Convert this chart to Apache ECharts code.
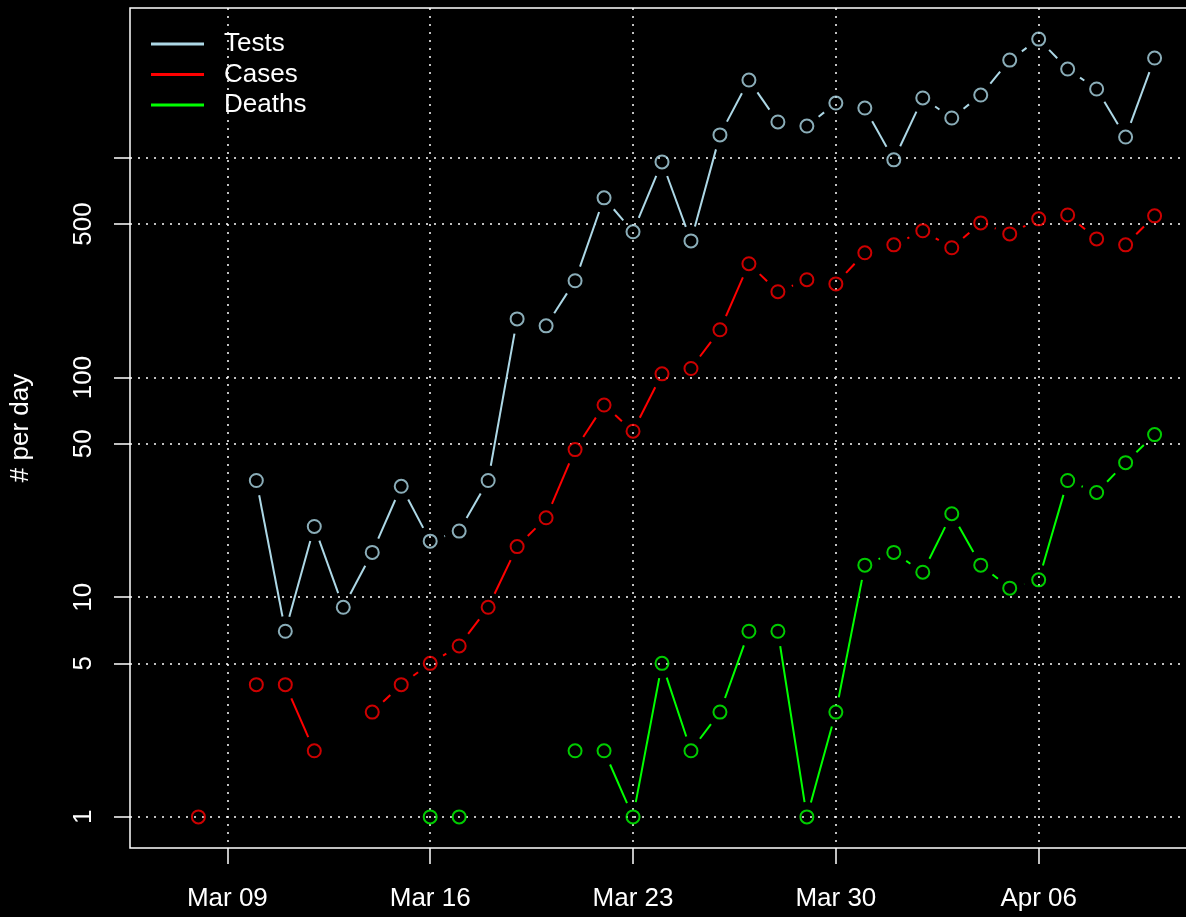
<!DOCTYPE html>
<html>
<head>
<meta charset="utf-8">
<title># per day</title>
<script src="https://cdn.jsdelivr.net/npm/echarts@6/dist/echarts.min.js"></script>
<style>
  html, body { margin: 0; padding: 0; background: #000; }
  #chart { width: 1186px; height: 917px; }
</style>
</head>
<body>
<div id="chart"></div>
<script>
// 日期 (2020)
const dates = [
    '2020-03-07', '2020-03-08', '2020-03-09', '2020-03-10', '2020-03-11', '2020-03-12', '2020-03-13',
    '2020-03-14', '2020-03-15', '2020-03-16', '2020-03-17', '2020-03-18', '2020-03-19', '2020-03-20',
    '2020-03-21', '2020-03-22', '2020-03-23', '2020-03-24', '2020-03-25', '2020-03-26', '2020-03-27',
    '2020-03-28', '2020-03-29', '2020-03-30', '2020-03-31', '2020-04-01', '2020-04-02', '2020-04-03',
    '2020-04-04', '2020-04-05', '2020-04-06', '2020-04-07', '2020-04-08', '2020-04-09', '2020-04-10'
];
const tests = [
    null, null, null, 34, 7, 21, 9,
    16, 32, 18, 20, 34, 185, 172,
    276, 658, 461, 959, 419, 1273, 2263,
    1458, 1397, 1778, 1687, 980, 1875, 1520,
    1933, 2788, 3475, 2539, 2060, 1245, 2850
];
const cases = [
    null, 1, null, 4, 4, 2, null,
    3, 4, 5, 6, 9, 17, 23,
    47, 75, 57, 104, 110, 165, 330,
    246, 279, 267, 370, 402, 466, 390,
    506, 451, 528, 550, 428, 402, 545
];
const deaths = [
    null, null, null, null, null, null, null,
    null, null, 1, 1, null, null, null,
    2, 2, 1, 5, 2, 3, 7,
    7, 1, 3, 14, 16, 13, 24,
    14, 11, 12, 34, 30, 41, 55
];
const xTickDates = ['2020-03-09', '2020-03-16', '2020-03-23', '2020-03-30', '2020-04-06'];
const xTickLabels = ['Mar 09', 'Mar 16', 'Mar 23', 'Mar 30', 'Apr 06'];
const yTicks = [1, 5, 10, 50, 100, 500, 1000];
const yTickLabels = [1, 5, 10, 50, 100, 500];

const DAY = 864e5;
const origin = Date.parse('2020-03-09');
const toX = d => (Date.parse(d) - origin) / DAY;
const xs = dates.map(toX);
const xTickVals = xTickDates.map(toX);

const FONT = "'Liberation Sans', Arial, sans-serif";
const GAP = 15; // 线段两端留空, 模仿 R 的 type="b"

// 连续两天都有值才连线
const makeSegments = (vals) => {
    const segs = [];
    for (let i = 1; i < vals.length; i++) {
        if (vals[i - 1] != null && vals[i] != null) {
            segs.push([xs[i - 1], vals[i - 1], xs[i], vals[i]]);
        }
    }
    return segs;
};
const makePoints = (vals) =>
    vals.map((v, i) => (v == null ? null : [xs[i], v])).filter(p => p);

const gapRenderer = (color) => (params, api) => {
    const p0 = api.coord([api.value(0), api.value(1)]);
    const p1 = api.coord([api.value(2), api.value(3)]);
    const dx = p1[0] - p0[0], dy = p1[1] - p0[1];
    const d = Math.sqrt(dx * dx + dy * dy);
    if (d <= 2 * GAP) return { type: 'group', children: [] };
    const ux = dx / d, uy = dy / d;
    return {
        type: 'line',
        shape: {
            x1: p0[0] + ux * GAP, y1: p0[1] + uy * GAP,
            x2: p1[0] - ux * GAP, y2: p1[1] - uy * GAP
        },
        style: { stroke: color, lineWidth: 2 }
    };
};

const groups = [
    { name: 'Tests', color: '#ADD8E6', vals: tests },
    { name: 'Cases', color: '#FF0000', vals: cases },
    { name: 'Deaths', color: '#00FF00', vals: deaths }
];

const series = [];
groups.forEach(g => {
    series.push({
        name: g.name,
        type: 'custom',
        renderItem: gapRenderer(g.color),
        encode: { x: [0, 2], y: [1, 3] },
        data: makeSegments(g.vals),
        itemStyle: { color: g.color },
        silent: true
    });
    series.push({
        name: g.name,
        type: 'scatter',
        symbol: 'circle',
        symbolSize: 13,
        data: makePoints(g.vals),
        itemStyle: { color: 'rgba(0,0,0,0)', borderColor: g.color, borderWidth: 2 },
        silent: true
    });
});

const chart = echarts.init(document.getElementById('chart'));
chart.setOption({
    backgroundColor: '#000',
    animation: false,
    textStyle: { fontFamily: FONT },
    grid: {
        left: 130, top: 8, width: 1064, height: 840,
        outerBoundsMode: 'none',
        containLabel: false,
        show: true, borderColor: '#fff', borderWidth: 1.5, backgroundColor: 'transparent'
    },
    legend: {
        orient: 'vertical',
        left: 146, top: 26,
        itemWidth: 53, itemHeight: 3, itemGap: 4.5,
        icon: 'rect',
        textStyle: { color: '#fff', fontSize: 26, fontFamily: FONT, padding: [0, 0, 0, 15] },
        data: groups.map(g => ({ name: g.name, itemStyle: { color: g.color, borderWidth: 0 } }))
    },
    xAxis: {
        type: 'value',
        min: -2 - 0.04 * 34,
        max: 32 + 0.04 * 34,
        axisLine: { show: false, onZero: false },
        axisTick: {
            show: true, length: 16, customValues: xTickVals,
            lineStyle: { color: '#fff', width: 1.5 }
        },
        axisLabel: {
            customValues: xTickVals,
            color: '#fff', fontSize: 26, fontFamily: FONT, margin: 38,
            formatter: v => xTickLabels[xTickVals.indexOf(v)] || ''
        },
        splitLine: { show: true, lineStyle: { color: '#fff', width: 1.5, type: [2, 6] } }
    },
    yAxis: {
        type: 'log',
        min: Math.pow(10, -0.04 * Math.log10(3475)),
        max: Math.pow(10, 1.04 * Math.log10(3475)),
        name: '# per day',
        nameLocation: 'middle',
        nameGap: 96,
        nameTextStyle: { color: '#fff', fontSize: 26, fontFamily: FONT },
        axisLine: { show: false, onZero: false },
        axisTick: {
            show: true, length: 16, customValues: yTicks,
            lineStyle: { color: '#fff', width: 1.5 }
        },
        axisLabel: {
            customValues: yTickLabels,
            rotate: 90,
            color: '#fff', fontSize: 26, fontFamily: FONT, margin: 33
        },
        splitLine: { show: true, lineStyle: { color: '#fff', width: 1.5, type: [2, 6] } }
    },
    series: series
});
</script>
</body>
</html>
